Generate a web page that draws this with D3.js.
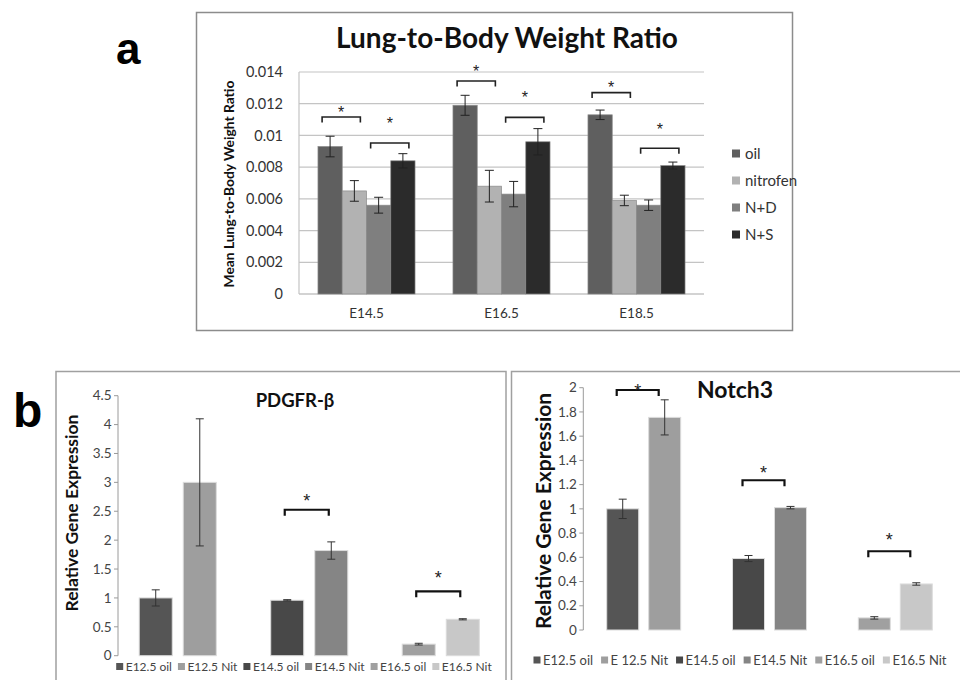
<!DOCTYPE html>
<html>
<head>
<meta charset="utf-8">
<script src="https://cdn.jsdelivr.net/npm/d3@7"></script>
<style>
  body { margin: 0; background: #fff; }
  svg { font-family: Lato, "Open Sans", sans-serif; }
</style>
</head>
<body>
<div id="chart"></div>
<script>
// ---- panel a data: lung-to-body weight ratio ----
const ratioStages = ["E14.5", "E16.5", "E18.5"];
const ratioGroups = ["oil", "nitrofen", "N+D", "N+S"];
const ratioColors = ["#5f5f5f", "#b2b2b2", "#7f7f7f", "#2b2b2b"];
const ratioMeans = [
    [0.0093, 0.0065, 0.0056, 0.0084],
    [0.0119, 0.0068, 0.0063, 0.0096],
    [0.0113, 0.0059, 0.0056, 0.0081]
];
const ratioErrors = [
    [0.00065, 0.00065, 0.0005, 0.00045],
    [0.00063, 0.001, 0.0008, 0.00083],
    [0.0003, 0.00033, 0.00033, 0.00022]
];
const ratioTicks = [0, 0.002, 0.004, 0.006, 0.008, 0.01, 0.012, 0.014];
// [stage, from bar, to bar, bracket level, star level]
const ratioBrackets = [
    [0, 0, 1, 0.01116, 0.01167],
    [0, 2, 3, 0.00952, 0.01097],
    [1, 0, 1, 0.01343, 0.01421],
    [1, 2, 3, 0.01114, 0.01261],
    [2, 0, 1, 0.0127, 0.01324],
    [2, 2, 3, 0.00919, 0.01061]
];

// ---- panel b data: relative gene expression ----
const geneStages = ["E12.5", "E14.5", "E16.5"];
const geneColors = ["#555555", "#9e9e9e", "#484848", "#858585", "#a0a0a0", "#c8c8c8"];

const pdgfrLabels = ["E12.5 oil", "E12.5 Nit", "E14.5 oil", "E14.5 Nit", "E16.5 oil", "E16.5 Nit"];
const pdgfrMeans = [1.0, 3.0, 0.96, 1.82, 0.2, 0.63];
const pdgfrErrors = [0.14, 1.1, 0.01, 0.15, 0.015, 0.01];
const pdgfrTicks = [0, 0.5, 1, 1.5, 2, 2.5, 3, 3.5, 4, 4.5];
const pdgfrBrackets = [[1, 2.526, 2.746], [2, 1.114, 1.413]];

const notchLabels = ["E12.5 oil", "E 12.5 Nit", "E14.5 oil", "E14.5 Nit", "E16.5 oil", "E16.5 Nit"];
const notchMeans = [1.0, 1.755, 0.59, 1.01, 0.1, 0.38];
const notchErrors = [0.08, 0.145, 0.025, 0.01, 0.01, 0.01];
const notchTicks = [0, 0.2, 0.4, 0.6, 0.8, 1, 1.2, 1.4, 1.6, 1.8, 2];
const notchBrackets = [[0, 1.981, 2.008], [1, 1.236, 1.331], [2, 0.65, 0.773]];

const svg = d3.select("#chart").append("svg")
    .attr("width", 960)
    .attr("height", 680);

const fmt = d => String(+d.toFixed(3));
const starFont = "Liberation Sans, Arial, sans-serif";

// panel letters
svg.append("text").attr("x", 116).attr("y", 64)
    .attr("font-size", 44).attr("font-weight", "bold").attr("font-family", "Liberation Sans, Arial")
    .text("a");
svg.append("text").attr("x", 13).attr("y", 427)
    .attr("font-size", 48).attr("font-weight", "bold").attr("font-family", "Liberation Sans, Arial")
    .text("b");

// ================= panel a =================
function drawRatioPanel() {
    const g = svg.append("g");
    g.append("rect")
        .attr("x", 196.5).attr("y", 12.5).attr("width", 596).attr("height", 318)
        .attr("fill", "none").attr("stroke", "#8c8c8c").attr("stroke-width", 1.5);

    g.append("text").attr("x", 507).attr("y", 48)
        .attr("text-anchor", "middle").attr("font-size", 28).attr("font-weight", "bold")
        .attr("fill", "#111").text("Lung-to-Body Weight Ratio");

    const x = d3.scaleBand().domain(ratioStages).range([299, 704])
        .paddingInner(0.281).paddingOuter(0.1405);
    const xs = d3.scaleBand().domain(ratioGroups).range([0, x.bandwidth()]);
    const y = d3.scaleLinear().domain([0, 0.014]).range([294, 72]);

    // grid lines
    g.append("g").selectAll("line").data(ratioTicks).join("line")
        .attr("x1", 299).attr("x2", 704)
        .attr("y1", d => y(d)).attr("y2", d => y(d))
        .attr("stroke", "#c4c4c4").attr("stroke-width", d => d === 0 ? 1.6 : 1.2);
    g.append("line").attr("x1", 299).attr("x2", 299).attr("y1", y(0.014)).attr("y2", y(0))
        .attr("stroke", "#c4c4c4").attr("stroke-width", 1.2);

    g.append("g").selectAll("text").data(ratioTicks).join("text")
        .attr("x", 283).attr("y", d => y(d)).attr("dy", "0.35em")
        .attr("text-anchor", "end").attr("font-size", 14.5).attr("fill", "#333")
        .text(fmt);

    g.append("g").selectAll("text").data(ratioStages).join("text")
        .attr("x", d => x(d) + x.bandwidth() / 2).attr("y", 313).attr("dy", "0.35em")
        .attr("text-anchor", "middle").attr("font-size", 13.5).attr("fill", "#333")
        .text(d => d);

    g.append("text")
        .attr("transform", "translate(229,184) rotate(-90)")
        .attr("text-anchor", "middle").attr("dy", "0.35em")
        .attr("font-size", 13.8).attr("font-weight", "bold").attr("fill", "#111")
        .text("Mean Lung-to-Body Weight Ratio");

    // bars and error bars
    const stageG = g.append("g").selectAll("g").data(ratioStages).join("g")
        .attr("transform", d => `translate(${x(d)},0)`);

    stageG.selectAll("rect").data((d, i) => ratioMeans[i].map((v, j) => ({ v, j, e: ratioErrors[i][j] })))
        .join("rect")
        .attr("x", d => xs(ratioGroups[d.j]))
        .attr("width", xs.bandwidth())
        .attr("y", d => y(d.v))
        .attr("height", d => y(0) - y(d.v))
        .attr("fill", d => ratioColors[d.j])
        .attr("stroke", "#8a8a8a").attr("stroke-width", 0.7);

    stageG.selectAll("path.err").data((d, i) => ratioMeans[i].map((v, j) => ({ v, j, e: ratioErrors[i][j] })))
        .join("path").attr("class", "err")
        .attr("d", d => {
            const cx = xs(ratioGroups[d.j]) + xs.bandwidth() / 2;
            const t = y(d.v + d.e), b = y(d.v - d.e);
            return `M${cx - 4.5},${t}H${cx + 4.5}M${cx},${t}V${b}M${cx - 4.5},${b}H${cx + 4.5}`;
        })
        .attr("fill", "none").attr("stroke", "#222").attr("stroke-width", 1);

    // significance brackets
    ratioBrackets.forEach(([s, a, b, lvl, star]) => {
        const x0 = x(ratioStages[s]) + xs(ratioGroups[a]) + xs.bandwidth() / 2 - 8;
        const x1 = x(ratioStages[s]) + xs(ratioGroups[b]) + xs.bandwidth() / 2 + 6;
        const yy = y(lvl);
        g.append("path")
            .attr("d", `M${x0},${yy + 5.5}V${yy}H${x1}V${yy + 5.5}`)
            .attr("fill", "none").attr("stroke", "#222").attr("stroke-width", 1.6);
        g.append("text").attr("x", (x0 + x1) / 2).attr("y", y(star)).attr("dy", "0.55em")
            .attr("text-anchor", "middle").attr("font-size", 16).attr("font-family", starFont)
            .attr("fill", "#222").text("*");
    });

    // legend
    const leg = g.append("g").selectAll("g").data(ratioGroups).join("g")
        .attr("transform", (d, i) => `translate(732,${153.5 + i * 27})`);
    leg.append("rect").attr("x", 0).attr("y", -4).attr("width", 8).attr("height", 8)
        .attr("fill", (d, i) => ratioColors[i]);
    leg.append("text").attr("x", 13).attr("dy", "0.35em")
        .attr("font-size", 15).attr("fill", "#333").text(d => d);
}

// ================= panel b =================
function drawGenePanel(opt) {
    const g = svg.append("g");
    g.append("rect")
        .attr("x", opt.box[0]).attr("y", opt.box[1]).attr("width", opt.box[2]).attr("height", 400)
        .attr("fill", "none").attr("stroke", "#a0a0a0").attr("stroke-width", 1.5);

    const x = d3.scaleBand().domain(geneStages).range(opt.xRange)
        .paddingInner(opt.outerPad).paddingOuter(opt.outerPad / 2);
    const xs = d3.scaleBand().domain([0, 1]).range([0, x.bandwidth()]).paddingInner(opt.innerPad);
    const y = d3.scaleLinear().domain(opt.yDomain).range(opt.yRange);

    const barX = i => x(geneStages[Math.floor(i / 2)]) + xs(i % 2);

    // axis
    g.append("line").attr("x1", opt.axisX).attr("x2", opt.axisX)
        .attr("y1", y(opt.yDomain[1])).attr("y2", y(0))
        .attr("stroke", "#9a9a9a").attr("stroke-width", 1);
    g.append("g").selectAll("line").data(opt.ticks).join("line")
        .attr("x1", opt.axisX - 4).attr("x2", opt.axisX)
        .attr("y1", d => y(d)).attr("y2", d => y(d))
        .attr("stroke", "#9a9a9a").attr("stroke-width", 1);
    g.append("g").selectAll("text").data(opt.ticks).join("text")
        .attr("x", opt.axisX - 6.5).attr("y", d => y(d)).attr("dy", "0.35em")
        .attr("text-anchor", "end").attr("font-size", 13.5).attr("fill", "#444")
        .text(fmt);

    g.append("text")
        .attr("transform", `translate(${opt.yTitle[0]},${opt.yTitle[1]}) rotate(-90)`)
        .attr("text-anchor", "middle").attr("dy", "0.35em")
        .attr("font-size", opt.yTitle[2]).attr("font-weight", "bold").attr("fill", "#111")
        .text("Relative Gene Expression");

    g.append("text").attr("x", opt.title[0]).attr("y", opt.title[1])
        .attr("text-anchor", "middle").attr("font-size", opt.title[2]).attr("font-weight", "bold")
        .attr("fill", "#111").text(opt.name);

    // bars
    g.append("g").selectAll("rect").data(opt.means).join("rect")
        .attr("x", (d, i) => barX(i))
        .attr("width", xs.bandwidth())
        .attr("y", d => y(d))
        .attr("height", d => y(0) - y(d))
        .attr("fill", (d, i) => geneColors[i])
        .attr("stroke", "#dcdcdc").attr("stroke-width", 1);

    g.append("g").selectAll("path").data(opt.means).join("path")
        .attr("d", (d, i) => {
            const cx = barX(i) + xs.bandwidth() / 2;
            const e = opt.errors[i];
            const t = y(d + e), b = y(d - e);
            return `M${cx - 4},${t}H${cx + 4}M${cx},${t}V${b}M${cx - 4},${b}H${cx + 4}`;
        })
        .attr("fill", "none").attr("stroke", "#333").attr("stroke-width", 1);

    // brackets
    opt.brackets.forEach(([s, lvl, star]) => {
        const x0 = barX(s * 2) + xs.bandwidth() / 2 + opt.bracketShift;
        const x1 = barX(s * 2 + 1) + xs.bandwidth() / 2 + opt.bracketShift;
        const yy = y(lvl);
        g.append("path")
            .attr("d", `M${x0},${yy + 6}V${yy}H${x1}V${yy + 6}`)
            .attr("fill", "none").attr("stroke", "#111").attr("stroke-width", 2.2);
        g.append("text").attr("x", (x0 + x1) / 2).attr("y", y(star)).attr("dy", "0.55em")
            .attr("text-anchor", "middle").attr("font-size", 18).attr("font-family", starFont)
            .attr("fill", "#222").text("*");
    });

    // legend: flow layout, centred
    const leg = g.append("g");
    let cx = 0;
    opt.labels.forEach((lab, i) => {
        const item = leg.append("g").attr("transform", `translate(${cx},0)`);
        item.append("rect").attr("x", 0).attr("y", -3.5).attr("width", 7).attr("height", 7)
            .attr("fill", geneColors[i]);
        const t = item.append("text").attr("x", 9.5).attr("dy", "0.35em")
            .attr("font-size", opt.legendSize).attr("fill", "#444").text(lab);
        cx += 9.5 + t.node().getComputedTextLength() + opt.legendGap;
    });
    const w = cx - opt.legendGap;
    leg.attr("transform", `translate(${opt.legend[0] - w / 2},${opt.legend[1]})`);
}

drawRatioPanel();

drawGenePanel({
    name: "PDGFR-β",
    box: [56, 371.5, 450],
    xRange: [112, 506.5], outerPad: 0.414, innerPad: 0.25,
    yDomain: [0, 4.5], yRange: [655.7, 395.7],
    axisX: 118, ticks: pdgfrTicks,
    means: pdgfrMeans, errors: pdgfrErrors, labels: pdgfrLabels, brackets: pdgfrBrackets,
    bracketShift: -2.5,
    yTitle: [72, 513, 17.5], title: [295, 407, 18.5],
    legend: [304, 666.5], legendGap: 6, legendSize: 12
});

drawGenePanel({
    name: "Notch3",
    box: [511.5, 371.5, 460],
    xRange: [580.8, 958.2], outerPad: 0.412, innerPad: 0.238,
    yDomain: [0, 2], yRange: [630, 387.7],
    axisX: 583.3, ticks: notchTicks,
    means: notchMeans, errors: notchErrors, labels: notchLabels, brackets: notchBrackets,
    bracketShift: -6,
    yTitle: [543.5, 511, 21], title: [735, 398, 23],
    legend: [740, 660], legendGap: 8, legendSize: 13
});
</script>
</body>
</html>
